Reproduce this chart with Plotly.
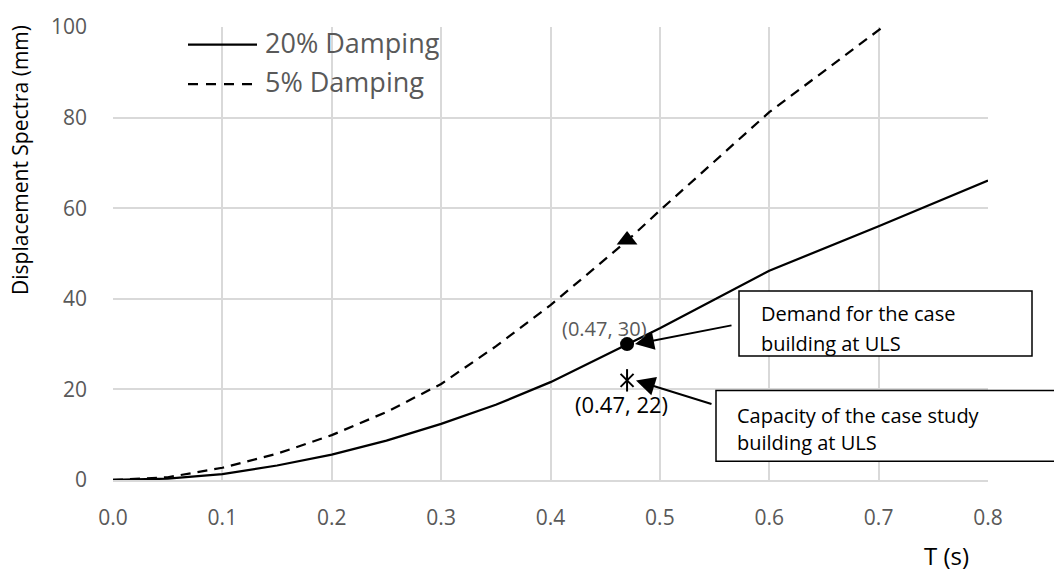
import plotly.graph_objects as go

# ---- data ----
T = [0, 0.05, 0.1, 0.15, 0.2, 0.25, 0.3, 0.35, 0.4, 0.47, 0.5, 0.6, 0.7, 0.8]
damping20 = [0, 0.3, 1.3, 3.2, 5.6, 8.7, 12.4, 16.6, 21.6, 30.0, 33.5, 46.2, 56.0, 66.1]
damping5 = [0, 0.6, 2.7, 5.8, 9.9, 15.0, 21.2, 29.5, 38.6, 52.8, 59.5, 81.2, 99.3, 117.0]

demand_T, demand_D = [0.47], [30]
capacity_T, capacity_D = [0.47], [22]
spec5_T, spec5_D = [0.47], [53]

x_ticks = [0.0, 0.1, 0.2, 0.3, 0.4, 0.5, 0.6, 0.7, 0.8]
y_ticks = [0, 20, 40, 60, 80, 100]

FONT = "Open Sans"
GREY = "#595959"
GRID = "#d9d9d9"

W, H = 1054, 575
PL, PR, PT, PB = 113, 988, 20, 480


def px(x):
    return (x - PL) / (PR - PL)


def py(y):
    return (PB - y) / (PB - PT)


fig = go.Figure()
fig.add_trace(go.Scatter(x=T, y=damping20, mode="lines", name="20% Damping",
                         line=dict(color="black", width=2.25), showlegend=False))
fig.add_trace(go.Scatter(x=T, y=damping5, mode="lines", name="5% Damping",
                         line=dict(color="black", width=2.25, dash="10px,7px"), showlegend=False))
fig.add_trace(go.Scatter(x=spec5_T, y=spec5_D, mode="markers", showlegend=False,
                         marker=dict(symbol="triangle-up", size=18, color="black")))
fig.add_trace(go.Scatter(x=demand_T, y=demand_D, mode="markers", showlegend=False,
                         marker=dict(symbol="circle", size=14, color="black")))
fig.add_trace(go.Scatter(x=capacity_T, y=capacity_D, mode="markers", showlegend=False,
                         marker=dict(symbol="x-thin-open", size=13, color="black",
                                     line=dict(width=2, color="black"))))
fig.add_trace(go.Scatter(x=capacity_T, y=capacity_D, mode="markers", showlegend=False,
                         marker=dict(symbol="line-ns-open", size=16, color="black",
                                     line=dict(width=2, color="black"))))

shapes = []
annotations = []

# manual legend
shapes.append(dict(type="line", xref="paper", yref="paper", x0=px(188), x1=px(257),
                   y0=py(38), y1=py(38), line=dict(color="black", width=2.25)))
shapes.append(dict(type="line", xref="paper", yref="paper", x0=px(188), x1=px(256),
                   y0=py(78), y1=py(78), line=dict(color="black", width=2.25, dash="10px,8px")))
annotations.append(dict(xref="paper", yref="paper", x=px(263), y=py(36), text="20% Damping",
                        showarrow=False, xanchor="left", yanchor="middle",
                        font=dict(family=FONT, size=27, color=GREY)))
annotations.append(dict(xref="paper", yref="paper", x=px(263), y=py(75), text="5% Damping",
                        showarrow=False, xanchor="left", yanchor="middle",
                        font=dict(family=FONT, size=27, color=GREY)))

# point labels
annotations.append(dict(xref="paper", yref="paper", x=px(604), y=py(326), text="(0.47, 30)",
                        showarrow=False, xanchor="center", yanchor="middle",
                        font=dict(family=FONT, size=20, color=GREY)))
annotations.append(dict(xref="paper", yref="paper", x=px(621), y=py(403), text="(0.47, 22)",
                        showarrow=False, xanchor="center", yanchor="middle",
                        font=dict(family=FONT, size=22, color="black")))

# callout boxes
shapes.append(dict(type="rect", xref="paper", yref="paper", x0=px(739), x1=px(1032),
                   y0=py(354), y1=py(288), line=dict(color="black", width=1.5),
                   fillcolor="white", layer="above"))
shapes.append(dict(type="rect", xref="paper", yref="paper", x0=px(716), x1=px(1070),
                   y0=py(461), y1=py(389), line=dict(color="black", width=1.5),
                   fillcolor="white", layer="above"))
for txt, x, y in [("Demand for the case", 759, 311), ("building at ULS", 759, 341),
                  ("Capacity of the case study", 735, 415), ("building at ULS", 735, 442)]:
    annotations.append(dict(xref="paper", yref="paper", x=px(x), y=py(y), text=txt,
                            showarrow=False, xanchor="left", yanchor="middle",
                            font=dict(family=FONT, size=20, color="black")))

# arrows
annotations.append(dict(xref="paper", yref="paper", x=px(635), y=py(342), text="",
                        showarrow=True, ax=98, ay=-19, arrowhead=2, arrowsize=1.9,
                        arrowwidth=2, arrowcolor="black", standoff=0))
annotations.append(dict(xref="paper", yref="paper", x=px(636), y=py(379), text="",
                        showarrow=True, ax=77, ay=24, arrowhead=2, arrowsize=1.9,
                        arrowwidth=2, arrowcolor="black", standoff=0))

# axis titles
annotations.append(dict(xref="paper", yref="paper", x=px(20), y=py(155),
                        text="Displacement Spectra (mm)", textangle=-90, showarrow=False,
                        xanchor="center", yanchor="middle",
                        font=dict(family=FONT, size=21, color="black")))
annotations.append(dict(xref="paper", yref="paper", x=px(946), y=py(557), text="T (s)",
                        showarrow=False, xanchor="center", yanchor="middle",
                        font=dict(family=FONT, size=24, color="black")))

fig.update_layout(
    width=W, height=H,
    margin=dict(l=PL, r=W - PR, t=PT, b=H - PB),
    paper_bgcolor="white", plot_bgcolor="white",
    showlegend=False,
    shapes=shapes, annotations=annotations,
    xaxis=dict(range=[0, 0.8], tickvals=x_ticks, tickformat=".1f",
               showgrid=True, gridcolor=GRID, gridwidth=1.5,
               zeroline=False, showline=True, linecolor=GRID, linewidth=1.5,
               ticks="", ticklabelstandoff=18,
               tickfont=dict(family=FONT, size=21, color=GREY), fixedrange=True),
    yaxis=dict(range=[0, 100], tickvals=y_ticks,
               showgrid=True, gridcolor=GRID, gridwidth=1.5,
               zeroline=False, showline=False,
               ticks="", ticklabelstandoff=25,
               tickfont=dict(family=FONT, size=21, color=GREY), fixedrange=True),
)

fig.write_html("out.html", config={"displayModeBar": False},
               post_script="document.body.style.margin='0';document.body.style.overflow='hidden';")
